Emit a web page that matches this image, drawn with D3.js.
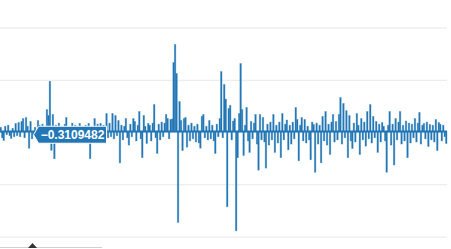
<!DOCTYPE html>
<html>
<head>
<meta charset="utf-8">
<script src="https://cdn.jsdelivr.net/npm/d3@7"></script>
<style>
  html, body { margin: 0; padding: 0; background: #fff; }
  #chart { width: 451px; height: 249px; overflow: hidden; }
  .grid line { stroke: #e8e8e8; stroke-width: 1; }
  .grid .domain { display: none; }
  .bar { fill: #2477b6; stroke: rgba(36, 119, 182, 0.4); stroke-width: 0.8; }
  .tip text { font-family: "Liberation Sans", Arial, sans-serif; font-size: 12px; font-weight: bold; fill: #fff; }
</style>
</head>
<body>
<div id="chart"></div>
<script>
// daily values
const values = [
    0.4, -0.6, -0.86, 0.5, -0.3, 0.6, -0.4, -0.67, 0.3, -0.5,
    0.77, -0.4, 0.86, -0.5, 0.96, 1.24, -0.6, 1.34, 0.5, -1.6,
    0.96, -0.7, -0.3109482, 0.4, -0.5, 1.05, 0.6, -0.4, 0.7, -0.8,
    0.5, 2.1, 1.53, 4.8, -1.8, 1.63, -2.6, 0.6, -0.5, 0.8,
    -0.4, 0.5, -0.9, 0.7, 1.34, -0.6, 0.4, -0.5, 0.8, -0.3,
    0.6, -0.7, 0.4, 0.77, -0.5, 0.5, -0.8, 0.6, -0.4, 0.77,
    -2.6, 0.5, -0.6, 1.24, -0.5, 0.7, -0.9, 0.77, -0.4, 0.6,
    -1.1, 1.72, -0.6, 0.8, -0.5, 1.72, -0.7, 1.53, -0.4, 1.05,
    -3.0, 0.6, -0.8, 0.5, 1.24, -0.6, -1.3, 0.7, -0.5, 1.24,
    0.96, -0.9, 0.6, 1.91, -0.7, -2.5, 1.53, 0.5, -1.15, 0.77,
    0.6, -0.9, 0.8, 2.58, -0.6, -2.1, 0.7, -0.8, 0.9, -0.5,
    0.8, 1.63, 1.24, -0.7, 1.15, 1.2, 6.6, 8.33, 5.55, -8.7,
    2.87, 1.05, -1.82, 1.24, 1.34, -1.5, 0.6, -0.9, 0.8, -0.7,
    0.5, -1.0, 0.7, -1.1, -1.6, 1.44, 1.63, -0.6, 0.5, -0.8,
    1.05, -0.7, 0.6, -0.9, -2.1, 0.7, -0.5, 1.24, 5.74, -0.6,
    4.5, 3.1, -7.2, 2.2, 2.5, -0.8, 1.0, 1.24, -9.5, -2.5,
    1.72, 6.5, 2.1, -2.3, 0.6, 2.3, -0.9, -2.0, 0.96, -0.7,
    0.8, 1.63, -1.2, -3.7, 1.63, -0.8, 1.34, -1.0, -3.5, 0.7,
    -1.3, 0.9, -0.8, 1.63, -2.0, 0.6, -1.1, 0.9, -2.5, 1.72,
    -0.8, 0.7, 1.1, -1.75, 0.6, -1.2, 0.9, -0.7, 2.3, 1.15,
    -2.8, 0.6, 1.34, -0.9, 1.15, -1.1, 0.5, -0.8, -2.7, 0.9,
    0.67, -3.9, 0.8, -1.2, 0.6, -3.0, 1.44, -0.9, 1.91, -1.3,
    0.7, -2.2, 0.9, 1.63, -1.0, 0.96, -0.8, 1.63, 3.25, -1.2,
    2.68, -0.6, 2.0, -2.5, 1.53, -0.9, -1.63, 0.8, -1.0, 1.72,
    0.6, -2.2, 1.24, -0.8, 0.9, -1.4, 1.91, -0.7, 2.58, -1.1,
    1.44, -0.6, 0.96, -2.0, 0.7, -1.0, 0.86, 0.5, -0.9, -3.9,
    0.6, 1.91, -1.3, 0.7, -3.2, 1.24, -0.8, 0.9, 1.91, -1.2,
    0.6, -0.9, 1.0, -2.5, 0.8, -1.1, 0.7, -0.6, 1.24, -1.0,
    0.8, 1.82, -1.2, 0.6, 0.77, -0.7, 0.9, -1.44, 0.67, -0.8,
    0.6, -1.0, 1.15, -1.82, 0.86, 0.7, -0.9, 0.6, -0.5, -1.15
];
const gridTicks = [-10, -5, 0, 5, 10];
const hoverIndex = 22;

const width = 451, height = 249;
const margin = { top: 27, right: 4, bottom: 13, left: 0 };

const svg = d3.select("#chart").append("svg")
    .attr("width", width)
    .attr("height", height);

const x = d3.scaleBand()
    .domain(d3.range(values.length))
    .range([margin.left, width - margin.right])
    .padding(0);

const y = d3.scaleLinear()
    .domain([-10, 10])
    .range([height - margin.bottom, margin.top]);

// horizontal grid
svg.append("g")
    .attr("class", "grid")
    .call(d3.axisLeft(y)
        .tickValues(gridTicks)
        .tickSize(0)
        .tickFormat(""))
    .selectAll(".tick line")
    .attr("x1", margin.left)
    .attr("x2", width - margin.right)
    .attr("transform", "translate(0,0.5)");

// thin line along zero, under the bars
svg.append("line")
    .attr("x1", margin.left).attr("x2", width - margin.right)
    .attr("y1", y(0)).attr("y2", y(0))
    .attr("stroke", "#2477b6")
    .attr("stroke-width", 1.8);

svg.append("g")
    .selectAll("rect")
    .data(values)
    .enter().append("rect")
    .attr("class", "bar")
    .attr("x", (d, i) => x(i))
    .attr("width", x.bandwidth())
    .attr("y", d => y(Math.max(0, d)))
    .attr("height", d => Math.max(1, Math.abs(y(d) - y(0))));

// tooltip on hovered bar
const fmt = d3.format(".7f");
const tipX = x(hoverIndex) + x.bandwidth() / 2;
const tipY = y(values[hoverIndex]);
const tip = svg.append("g").attr("class", "tip")
    .attr("transform", "translate(" + tipX + "," + tipY + ")");

const bw = 68, bh = 17, ar = 5;
tip.append("path")
    .attr("d", "M0,0 L" + ar + "," + (-bh / 2) + " L" + (ar + bw) + "," + (-bh / 2) +
        " L" + (ar + bw) + "," + (bh / 2) + " L" + ar + "," + (bh / 2) + " Z")
    .attr("fill", "#2477b6")
    .attr("stroke", "#fff")
    .attr("stroke-width", 1);

tip.append("text")
    .attr("x", ar + bw / 2)
    .attr("y", 4.5)
    .attr("text-anchor", "middle")
    .text(fmt(values[hoverIndex]));

// navigator stub at the bottom
svg.append("line")
    .attr("x1", 0).attr("x2", 102)
    .attr("y1", 247.5).attr("y2", 247.5)
    .attr("stroke", "#d0d0d0");
svg.append("path")
    .attr("d", "M28,248 L32.5,243 L37,248 Z")
    .attr("fill", "#333");
</script>
</body>
</html>
